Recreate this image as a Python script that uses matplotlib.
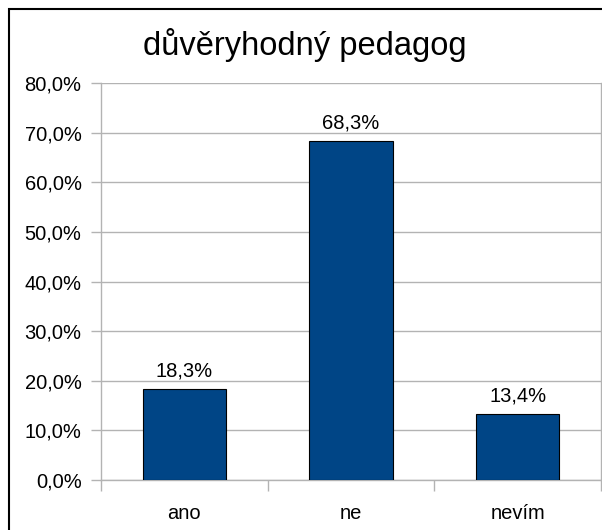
import matplotlib
matplotlib.use("Agg")
import matplotlib.pyplot as plt
from matplotlib.patches import Rectangle
from matplotlib.ticker import FixedLocator

plt.rcParams['font.family'] = ['Liberation Sans', 'DejaVu Sans']

title = "důvěryhodný pedagog"
categories = ["ano", "ne", "nevím"]
values = [18.3, 68.3, 13.4]
value_labels = ["18,3%", "68,3%", "13,4%"]
y_ticks = [0, 10, 20, 30, 40, 50, 60, 70, 80]
y_tick_labels = ["0,0%", "10,0%", "20,0%", "30,0%", "40,0%", "50,0%", "60,0%", "70,0%", "80,0%"]

W, H = 602, 530
fig = plt.figure(figsize=(W / 100, H / 100), dpi=100)
fig.patch.set_facecolor("white")

# plot area in pixel coordinates
left, right, top, bottom = 101, 601, 83, 480
ax = fig.add_axes([left / W, 1 - bottom / H, (right - left) / W, (bottom - top) / H])

grid_c = "#b3b3b3"
fs = 14.5
x = list(range(len(categories)))
ax.bar(x, values, width=0.5, color="#004586", edgecolor="black", linewidth=0.8, zorder=3)

ax.set_xlim(-0.5, len(categories) - 0.5)
ax.set_ylim(0, 80)
ax.set_yticks(y_ticks)
ax.set_yticklabels(y_tick_labels, fontsize=fs)
ax.yaxis.grid(True, color=grid_c, linewidth=1.0, zorder=0)

ax.xaxis.set_major_locator(FixedLocator([i - 0.5 for i in range(len(categories) + 1)]))
ax.xaxis.set_major_formatter(plt.NullFormatter())
ax.xaxis.set_minor_locator(FixedLocator(x))
ax.set_xticklabels(categories, minor=True, fontsize=fs)
ax.tick_params(axis="x", which="major", length=8, width=1, color=grid_c, direction="out")
ax.tick_params(axis="x", which="minor", length=0, pad=17)
ax.tick_params(axis="y", length=7, width=1, color=grid_c, direction="out", pad=7)

for s in ax.spines.values():
    s.set_color(grid_c)
    s.set_linewidth(1.0)
ax.spines["top"].set_visible(False)
ax.spines["right"].set_visible(True)

for xi, v, lab in zip(x, values, value_labels):
    ax.annotate(lab, (xi, v), xytext=(0, 6), textcoords="offset points",
                ha="center", va="bottom", fontsize=fs, zorder=4)

fig.text(305 / W, 1 - 45 / H, title, ha="center", va="center", fontsize=23.5)

# outer frame around the chart
fig.patches.append(Rectangle((8.5 / W, -0.1), 1.2, 1 - 8.5 / H + 0.1,
                             transform=fig.transFigure, fill=False,
                             edgecolor="black", linewidth=1.5))

fig.savefig("out.png", dpi=100, facecolor="white")
